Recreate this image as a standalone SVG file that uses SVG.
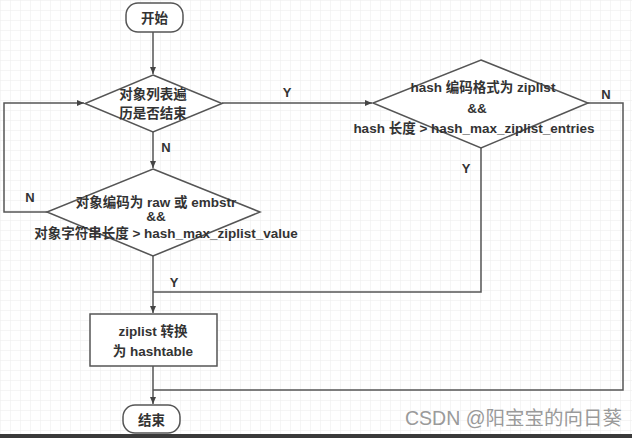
<svg xmlns="http://www.w3.org/2000/svg" width="632" height="438" viewBox="0 0 632 438">
<defs>
<pattern id="grid" width="10" height="10" patternUnits="userSpaceOnUse">
<path d="M10 0H0V10" fill="none" stroke="#ececec" stroke-width="1"/>
</pattern>
<marker id="arr" markerWidth="8" markerHeight="8" refX="7" refY="4" orient="auto" markerUnits="userSpaceOnUse">
<path d="M0 1L7 4L0 7z" fill="#444"/>
</marker>
</defs>
<style>
.shape{fill:#fff;stroke:#555;stroke-width:1.5}
.edge{fill:none;stroke:#555;stroke-width:1.5}
.t{font-family:"Liberation Sans","Noto Sans CJK SC",sans-serif;font-size:13.5px;font-weight:bold;fill:#333;text-anchor:middle}
.lbl{font-family:"Liberation Sans","Noto Sans CJK SC",sans-serif;font-size:13px;font-weight:bold;fill:#333;text-anchor:middle}
.wm{font-family:"Liberation Sans","Noto Sans CJK SC",sans-serif;font-size:19.5px;fill:#9a9a9a}
</style>
<rect width="632" height="438" fill="#fff"/>
<rect width="632" height="438" fill="url(#grid)"/>
<g id="connectors">
<path class="edge" d="M153 32V74" marker-end="url(#arr)"/>
<path class="edge" d="M222 103H372" marker-end="url(#arr)"/>
<path class="edge" d="M153 132V168" marker-end="url(#arr)"/>
<path class="edge" d="M47 212H4V103H84" marker-end="url(#arr)"/>
<path class="edge" d="M153 256V313" marker-end="url(#arr)"/>
<path class="edge" d="M481 148V292H153"/>
<path class="edge" d="M588 103H623V390H153"/>
<path class="edge" d="M153 366V404" marker-end="url(#arr)"/>
<text class="lbl" x="287" y="97">Y</text>
<text class="lbl" x="166" y="152">N</text>
<text class="lbl" x="30" y="202">N</text>
<text class="lbl" x="174" y="287">Y</text>
<text class="lbl" x="606" y="99">N</text>
<text class="lbl" x="466" y="173">Y</text>
</g>
<g id="start">
<rect class="shape" x="126" y="3" width="57" height="29" rx="12"/>
<text class="t" x="154.5" y="22.5">开始</text>
</g>
<g id="loop-end">
<path class="shape" d="M153 75L222 103.5L153 132L85 103.5Z"/>
<text class="t" x="153" y="99">对象列表遍</text>
<text class="t" x="153" y="118">历是否结束</text>
</g>
<g id="check-value">
<path class="shape" d="M153 169L260 212L153 256L47 212Z"/>
<text class="t" x="156" y="207">对象编码为 raw 或 embstr</text>
<text class="t" x="156" y="221">&amp;&amp;</text>
<text class="t" x="166" y="238">对象字符串长度 &gt; hash_max_ziplist_value</text>
</g>
<g id="check-entries">
<path class="shape" d="M481 60L588 103L481 148L373 103Z"/>
<text class="t" x="483" y="92">hash 编码格式为 ziplist</text>
<text class="t" x="477" y="113">&amp;&amp;</text>
<text class="t" x="474" y="133">hash 长度 &gt; hash_max_ziplist_entries</text>
</g>
<g id="convert">
<rect class="shape" x="90" y="314" width="127" height="52"/>
<text class="t" x="153" y="336">ziplist 转换</text>
<text class="t" x="153" y="356">为 hashtable</text>
</g>
<g id="end">
<rect class="shape" x="123" y="405" width="57" height="28" rx="12"/>
<text class="t" x="151.5" y="424.5">结束</text>
</g>
<text class="wm" x="405" y="425">CSDN @阳宝宝的向日葵</text>
<rect x="0" y="434" width="632" height="4" fill="#3a3a3a"/>
</svg>
